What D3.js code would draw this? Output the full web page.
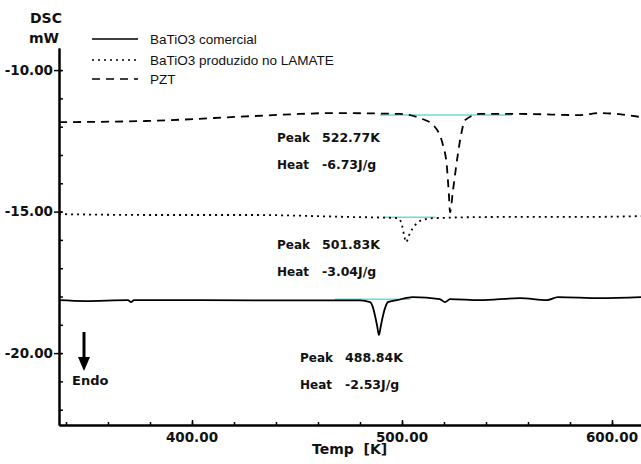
<!DOCTYPE html>
<html><head><meta charset="utf-8">
<script src="https://cdn.jsdelivr.net/npm/d3@7"></script>
<style>
body{margin:0;background:#fff;}
svg{display:block;}
text{font-family:"DejaVu Sans",sans-serif;font-weight:bold;fill:#111;}
.leg{font-family:"Liberation Sans",Arial,sans-serif;font-weight:normal;}
</style></head>
<body>
<svg id="c" width="641" height="464"></svg>
<script>
// ---- data ----
const xTicksMajor = [400, 500, 600];
const xTickLabels = ["400.00", "500.00", "600.00"];
const yTicksMajor = [-10, -15, -20];
const yTickLabels = ["-10.00", "-15.00", "-20.00"];
const legendLabels = ["BaTiO3 comercial", "BaTiO3 produzido no LAMATE", "PZT"];

const comercialT = [336.7, 349, 369.5, 371, 372.4, 403.8, 451.4, 480, 484.8, 486, 487.1, 488.2, 489, 489.9, 491, 492.2, 493.3, 497.6, 505.2, 518, 520.5, 522.9, 537.1, 556.2, 569, 574.3, 594.3, 613.8];
const comercialV = [-18.13, -18.16, -18.13, -18.2, -18.13, -18.13, -18.14, -18.14, -18.2, -18.35, -18.66, -19.05, -19.36, -19.05, -18.66, -18.35, -18.2, -18.13, -18.02, -18.09, -18.2, -18.09, -18.13, -18.06, -18.13, -18.02, -18.06, -18.02];

const lamateT = [336.7, 380, 427.6, 475.2, 498.1, 500, 501, 501.9, 503.8, 506.2, 509.5, 515.7, 546.7, 584.8, 613.8];
const lamateV = [-15.09, -15.12, -15.12, -15.19, -15.23, -15.48, -15.83, -16.08, -15.76, -15.48, -15.30, -15.23, -15.19, -15.19, -15.16];

const pztT = [336.7, 377.6, 427.6, 451.4, 465.7, 499, 508.6, 514.8, 519.5, 521.4, 522.4, 522.86, 524.3, 526.2, 528.1, 530.0, 537.1, 556.2, 584.8, 594.3, 613.8];
const pztV = [-11.84, -11.80, -11.63, -11.55, -11.52, -11.55, -11.70, -11.94, -12.65, -13.43, -14.49, -15.02, -14.24, -13.18, -12.30, -11.77, -11.55, -11.55, -11.59, -11.52, -11.66];

// baselines (integration limits) [t1, t2, v]
const baseComercial = [468, 503.8, -18.1];
const baseLamate = [491, 516, -15.2];
const basePZT = [489.5, 552.4, -11.59];

const peakLabels = ["522.77K", "501.83K", "488.84K"];
const heatLabels = ["-6.73J/g", "-3.04J/g", "-2.53J/g"];

// ---- chart ----
const svg = d3.select("#c");
const x = d3.scaleLinear().domain([336.67, 613.81]).range([59, 641]);
const y = d3.scaleLinear().domain([-9.22, -22.54]).range([48, 425]);

// curves
const line = d3.line().x(d => x(d[0])).y(d => y(d[1])).curve(d3.curveMonotoneX);
const zip = (a, b) => a.map((t, i) => [t, b[i]]);

// baselines
[baseComercial, baseLamate, basePZT].forEach(b => {
  svg.append("line").attr("x1", x(b[0])).attr("x2", x(b[1])).attr("y1", y(b[2])).attr("y2", y(b[2]))
    .attr("stroke", "#6fd8d8").attr("stroke-width", 1.5);
});

svg.append("path").attr("d", line(zip(comercialT, comercialV))).attr("fill", "none")
  .attr("stroke", "#000").attr("stroke-width", 1.8);
svg.append("path").attr("d", line(zip(lamateT, lamateV))).attr("fill", "none")
  .attr("stroke", "#000").attr("stroke-width", 1.8).attr("stroke-dasharray", "2,4");
svg.append("path").attr("d", line(zip(pztT, pztV))).attr("fill", "none")
  .attr("stroke", "#000").attr("stroke-width", 1.8).attr("stroke-dasharray", "8,6");

// axes
const yAxisMajor = d3.axisLeft(y).tickValues(yTicksMajor).tickSize(5).tickSizeOuter(0)
  .tickFormat((d, i) => yTickLabels[i]).tickPadding(1);
const yAxisMinor = d3.axisRight(y).tickValues(d3.range(-22, -9, 1)).tickSize(4).tickSizeOuter(0).tickFormat("");
const gy = svg.append("g").attr("transform", "translate(59,0)").call(yAxisMajor);
const gy2 = svg.append("g").attr("transform", "translate(59,0)").call(yAxisMinor);
const xAxisMajor = d3.axisTop(x).tickValues(xTicksMajor).tickSize(5).tickSizeOuter(0).tickFormat("");
const xAxisMinor = d3.axisTop(x).tickValues(d3.range(340, 601, 20)).tickSize(3).tickSizeOuter(0).tickFormat("");
const gx = svg.append("g").attr("transform", "translate(0,425)").call(xAxisMajor);
const gx2 = svg.append("g").attr("transform", "translate(0,425)").call(xAxisMinor);
[gy, gy2, gx, gx2].forEach(g => {
  g.selectAll(".domain").attr("stroke", "#000").attr("stroke-width", 2);
  g.selectAll(".tick line").attr("stroke", "#000").attr("stroke-width", 1.5);
});
gy.selectAll(".tick line").attr("x2", -5).attr("x1", 3);
gy.selectAll(".tick text").attr("font-size", 13.5).attr("font-family", "DejaVu Sans").attr("font-weight", "bold").attr("fill", "#111");
// x tick labels
svg.append("g").selectAll("text").data(xTicksMajor).join("text")
  .attr("x", d => x(d)).attr("y", 442).attr("text-anchor", "middle").attr("font-size", 13.5)
  .text((d, i) => xTickLabels[i]);

// axis titles
svg.append("text").attr("x", 46).attr("y", 23).attr("text-anchor", "middle").attr("font-size", 14).text("DSC");
svg.append("text").attr("x", 44).attr("y", 43).attr("text-anchor", "middle").attr("font-size", 14).text("mW");
svg.append("text").attr("x", 312).attr("y", 454).attr("font-size", 14).text("Temp\u00a0\u00a0[K]");

// legend
const legY = [39, 60, 79];
const legDash = [null, "2,4", "8,6"];
legendLabels.forEach((l, i) => {
  svg.append("line").attr("x1", 92).attr("x2", 138).attr("y1", legY[i]).attr("y2", legY[i])
    .attr("stroke", "#000").attr("stroke-width", 1.6).attr("stroke-dasharray", legDash[i]);
  svg.append("text").attr("class", "leg").attr("x", 150).attr("y", legY[i] + 5).attr("font-size", 13.5).text(l);
});

// annotations
const annX = [277, 277, 300];
const annY = [142, 249, 362];
peakLabels.forEach((p, i) => {
  svg.append("text").attr("x", annX[i]).attr("y", annY[i]).attr("font-size", 12).text("Peak");
  svg.append("text").attr("x", annX[i] + 45).attr("y", annY[i]).attr("font-size", 12.5).text(p);
  svg.append("text").attr("x", annX[i]).attr("y", annY[i] + 27).attr("font-size", 12).text("Heat");
  svg.append("text").attr("x", annX[i] + 45).attr("y", annY[i] + 27).attr("font-size", 12.5).text(heatLabels[i]);
});

// Endo arrow
svg.append("line").attr("x1", 84).attr("x2", 84).attr("y1", 332).attr("y2", 360).attr("stroke", "#000").attr("stroke-width", 3);
svg.append("path").attr("d", "M78,357 L90,357 L84,371 Z").attr("fill", "#000");
svg.append("text").attr("x", 72).attr("y", 385).attr("font-size", 13).text("Endo");
</script>
</body></html>
